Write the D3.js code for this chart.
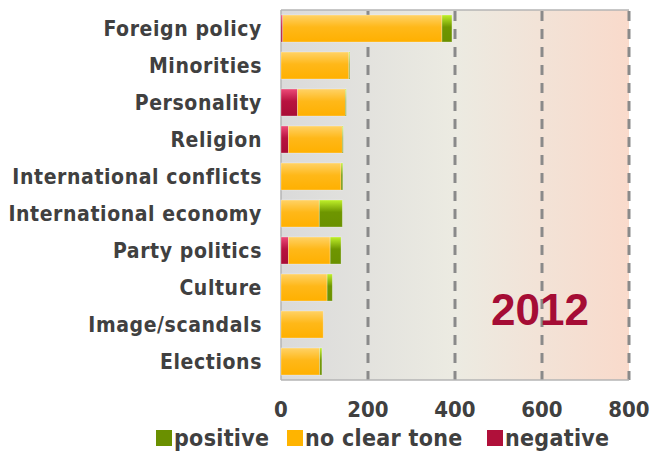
<!DOCTYPE html>
<html><head><meta charset="utf-8">
<script src="https://cdn.jsdelivr.net/npm/d3@7"></script>
<style>html,body{margin:0;padding:0;background:#fff;}</style>
</head><body>
<svg id="c" width="652" height="453"></svg>
<script>
const categories = ["Foreign policy","Minorities","Personality","Religion","International conflicts","International economy","Party politics","Culture","Image/scandals","Elections"];
const negative = [4, 0, 38, 17, 0, 0, 17, 0, 0, 0];
const noClearTone = [366, 156, 110, 124, 138, 88, 96, 106, 97, 89];
const positive = [23, 2, 2, 2, 4, 53, 25, 12, 0, 5];
const xTicks = [0, 200, 400, 600, 800];
const seriesNames = ["positive", "no clear tone", "negative"];
const yearLabel = "2012";

const svg = d3.select("#c");
const L = 281, R = 629, T = 10, B = 380;
const x = d3.scaleLinear().domain([0, 800]).range([L, R]);
const y = d3.scaleBand().domain(categories).range([T, B]).paddingInner(0.27).paddingOuter(0.135);

const defs = svg.append("defs");
const bg = defs.append("linearGradient").attr("id","bg").attr("x1","0").attr("x2","1").attr("y1","0").attr("y2","0");
[["0","#dadada"],["0.5","#ecebe2"],["1","#f9dacb"]].forEach(s=>bg.append("stop").attr("offset",s[0]).attr("stop-color",s[1]));
function vgrad(id, top, mid, bot){
  const g = defs.append("linearGradient").attr("id",id).attr("x1","0").attr("x2","0").attr("y1","0").attr("y2","1");
  g.append("stop").attr("offset","0").attr("stop-color",top);
  g.append("stop").attr("offset","0.45").attr("stop-color",mid);
  g.append("stop").attr("offset","1").attr("stop-color",bot);
}
vgrad("gNeg","#ec4a78","#b8123f","#a80d36");
vgrad("gNct","#ffd266","#ffb819","#ffb000");
vgrad("gPos","#bff02a","#6e9600","#6a9000");

svg.append("rect").attr("x",L).attr("y",T).attr("width",R-L).attr("height",B-T).attr("fill","url(#bg)");

// grid
svg.append("g").selectAll("line").data(xTicks.slice(1)).join("line")
  .attr("x1",d=>x(d)).attr("x2",d=>x(d)).attr("y1",T+1).attr("y2",B)
  .attr("stroke","#8a8a8a").attr("stroke-width",3).attr("stroke-dasharray","10,8");

// border
svg.append("line").attr("x1",L).attr("x2",R).attr("y1",T).attr("y2",T).attr("stroke","#b4b4b4").attr("stroke-width",1.5);
svg.append("line").attr("x1",L).attr("x2",R).attr("y1",B).attr("y2",B).attr("stroke","#b4b4b4").attr("stroke-width",1.5);
svg.append("line").attr("x1",L).attr("x2",L).attr("y1",T).attr("y2",B).attr("stroke","#b4b4b4").attr("stroke-width",1.5);

// bars
const rows = categories.map((c,i)=>({c, neg:negative[i], nct:noClearTone[i], pos:positive[i]}));
const segs = [];
rows.forEach(r=>{
  segs.push({c:r.c, x0:0, x1:r.neg, f:"url(#gNeg)"});
  segs.push({c:r.c, x0:r.neg, x1:r.neg+r.nct, f:"url(#gNct)"});
  segs.push({c:r.c, x0:r.neg+r.nct, x1:r.neg+r.nct+r.pos, f:"url(#gPos)"});
});
svg.append("g").selectAll("rect").data(segs.filter(s=>s.x1>s.x0)).join("rect")
  .attr("x",d=>x(d.x0)).attr("width",d=>x(d.x1)-x(d.x0))
  .attr("y",d=>y(d.c)).attr("height",y.bandwidth())
  .attr("fill",d=>d.f).attr("stroke","rgba(255,255,255,0.35)").attr("stroke-width",0.8);

// category labels
const font = "'DejaVu Sans Condensed','DejaVu Sans',sans-serif";
svg.append("g").selectAll("text").data(categories).join("text")
  .attr("x",262).attr("y",d=>y(d)+y.bandwidth()/2).attr("dy","0.36em")
  .attr("text-anchor","end").attr("font-family",font).attr("font-weight","bold")
  .attr("font-size",21).attr("letter-spacing",0.6).attr("fill","#404040").text(d=>d);

// x axis labels
svg.append("g").selectAll("text").data(xTicks).join("text")
  .attr("x",d=>x(d)).attr("y",417).attr("text-anchor","middle")
  .attr("font-family",font).attr("font-weight","bold").attr("font-size",22).attr("fill","#404040").text(d=>d);

// legend
const legColors = ["#6a9000","#ffb400","#b0103a"];
const legX = [156, 287, 487];
const lg = svg.append("g");
seriesNames.forEach((n,i)=>{
  lg.append("rect").attr("x",legX[i]).attr("y",430).attr("width",16).attr("height",16).attr("fill",legColors[i]);
  lg.append("text").attr("x",legX[i]+18).attr("y",446).attr("font-family",font).attr("font-weight","bold")
    .attr("font-size",23).attr("letter-spacing",0.3).attr("fill","#404040").text(n);
});

// year
svg.append("text").attr("x",540).attr("y",325).attr("text-anchor","middle")
  .attr("font-family","'Liberation Sans',Arial,sans-serif").attr("font-weight","bold")
  .attr("font-size",44).attr("fill","#a50d35").text(yearLabel);
</script>
</body></html>
